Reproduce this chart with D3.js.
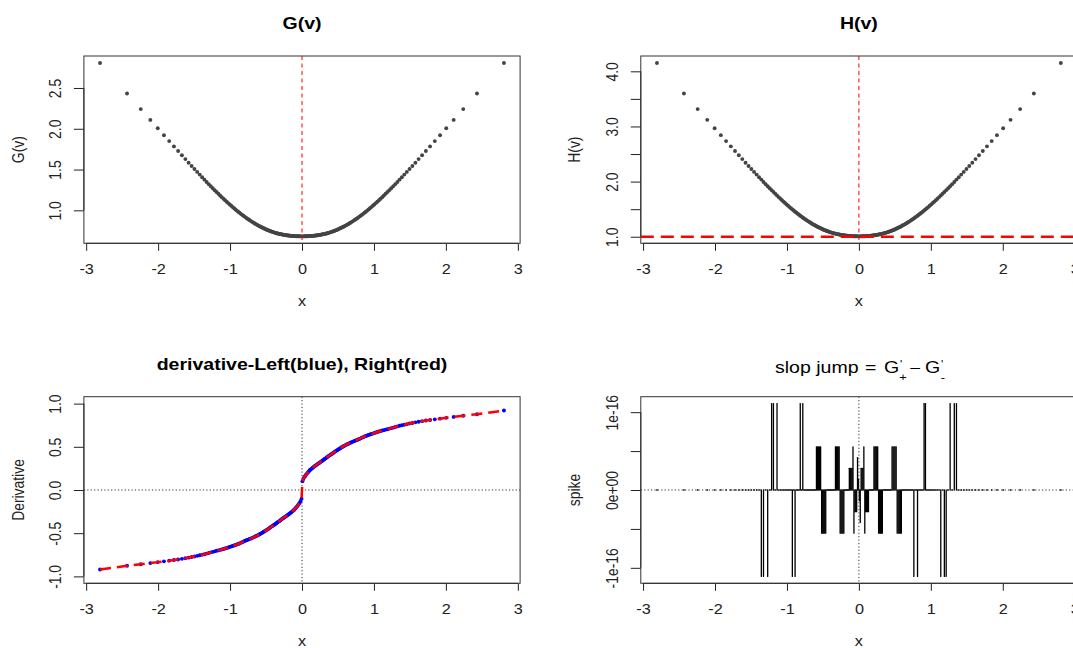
<!DOCTYPE html>
<html>
<head>
<meta charset="utf-8">
<script src="https://cdn.jsdelivr.net/npm/d3@7"></script>
<style>
  body { margin: 0; background: #fff; }
  svg { display: block; }
  text { font-family: "Liberation Sans", Arial, sans-serif; }
</style>
</head>
<body>
<svg id="chart" width="1073" height="648"></svg>
<script>
// sample points (200 symmetric points)
const xs = [
  -2.807, -2.432, -2.241, -2.108, -2.005, -1.919, -1.846, -1.780, -1.722, -1.669,
  -1.621, -1.576, -1.534, -1.495, -1.457, -1.422, -1.388, -1.356, -1.326, -1.296,
  -1.268, -1.240, -1.213, -1.188, -1.163, -1.138, -1.115, -1.092, -1.069, -1.047,
  -1.026, -1.005, -0.984, -0.964, -0.944, -0.925, -0.906, -0.887, -0.868, -0.850,
  -0.832, -0.815, -0.798, -0.780, -0.764, -0.747, -0.731, -0.714, -0.698, -0.682,
  -0.667, -0.651, -0.636, -0.620, -0.605, -0.590, -0.576, -0.561, -0.546, -0.532,
  -0.518, -0.503, -0.489, -0.475, -0.461, -0.447, -0.433, -0.420, -0.406, -0.392,
  -0.379, -0.366, -0.352, -0.339, -0.326, -0.313, -0.300, -0.287, -0.274, -0.261,
  -0.248, -0.235, -0.222, -0.209, -0.197, -0.184, -0.171, -0.157, -0.146, -0.133,
  -0.120, -0.107, -0.094, -0.082, -0.069, -0.056, -0.044, -0.031, -0.019, -0.006,
  0.006, 0.019, 0.031, 0.044, 0.056, 0.069, 0.082, 0.094, 0.107, 0.120,
  0.133, 0.146, 0.157, 0.171, 0.184, 0.197, 0.209, 0.222, 0.235, 0.248,
  0.261, 0.274, 0.287, 0.300, 0.313, 0.326, 0.339, 0.352, 0.366, 0.379,
  0.392, 0.406, 0.420, 0.433, 0.447, 0.461, 0.475, 0.489, 0.503, 0.518,
  0.532, 0.546, 0.561, 0.576, 0.590, 0.605, 0.620, 0.636, 0.651, 0.667,
  0.682, 0.698, 0.714, 0.731, 0.747, 0.764, 0.780, 0.798, 0.815, 0.832,
  0.850, 0.868, 0.887, 0.906, 0.925, 0.944, 0.964, 0.984, 1.005, 1.026,
  1.047, 1.069, 1.092, 1.115, 1.138, 1.163, 1.188, 1.213, 1.240, 1.268,
  1.296, 1.326, 1.356, 1.388, 1.422, 1.457, 1.495, 1.534, 1.576, 1.621,
  1.669, 1.722, 1.780, 1.846, 1.919, 2.005, 2.108, 2.241, 2.432, 2.807
];

const gv = [
  2.807, 2.432, 2.241, 2.109, 2.006, 1.921, 1.849, 1.784, 1.727, 1.675,
  1.628, 1.584, 1.544, 1.507, 1.471, 1.438, 1.406, 1.376, 1.348, 1.321,
  1.296, 1.271, 1.247, 1.225, 1.203, 1.182, 1.162, 1.143, 1.124, 1.106,
  1.089, 1.072, 1.056, 1.040, 1.025, 1.011, 0.997, 0.983, 0.970, 0.957,
  0.945, 0.934, 0.923, 0.911, 0.901, 0.891, 0.881, 0.871, 0.862, 0.853,
  0.844, 0.836, 0.828, 0.820, 0.813, 0.805, 0.799, 0.792, 0.786, 0.780,
  0.774, 0.768, 0.762, 0.757, 0.752, 0.747, 0.743, 0.739, 0.735, 0.730,
  0.727, 0.723, 0.720, 0.717, 0.714, 0.711, 0.708, 0.706, 0.703, 0.701,
  0.699, 0.697, 0.695, 0.694, 0.692, 0.691, 0.689, 0.688, 0.687, 0.686,
  0.685, 0.685, 0.684, 0.683, 0.683, 0.682, 0.682, 0.682, 0.681, 0.681,
  0.681, 0.681, 0.682, 0.682, 0.682, 0.683, 0.683, 0.684, 0.685, 0.685,
  0.686, 0.687, 0.688, 0.689, 0.691, 0.692, 0.694, 0.695, 0.697, 0.699,
  0.701, 0.703, 0.706, 0.708, 0.711, 0.714, 0.717, 0.720, 0.723, 0.727,
  0.730, 0.735, 0.739, 0.743, 0.747, 0.752, 0.757, 0.762, 0.768, 0.774,
  0.780, 0.786, 0.792, 0.799, 0.805, 0.813, 0.820, 0.828, 0.836, 0.844,
  0.853, 0.862, 0.871, 0.881, 0.891, 0.901, 0.911, 0.923, 0.934, 0.945,
  0.957, 0.970, 0.983, 0.997, 1.011, 1.025, 1.040, 1.056, 1.072, 1.089,
  1.106, 1.124, 1.143, 1.162, 1.182, 1.203, 1.225, 1.247, 1.271, 1.296,
  1.321, 1.348, 1.376, 1.406, 1.438, 1.471, 1.507, 1.544, 1.584, 1.628,
  1.675, 1.727, 1.784, 1.849, 1.921, 2.006, 2.109, 2.241, 2.432, 2.807
];

const hv = [
  4.152, 3.598, 3.315, 3.120, 2.967, 2.842, 2.735, 2.639, 2.555, 2.478,
  2.408, 2.343, 2.284, 2.229, 2.176, 2.127, 2.080, 2.036, 1.994, 1.954,
  1.917, 1.880, 1.845, 1.812, 1.780, 1.749, 1.719, 1.691, 1.663, 1.636,
  1.611, 1.586, 1.562, 1.538, 1.516, 1.496, 1.475, 1.454, 1.435, 1.416,
  1.398, 1.382, 1.365, 1.348, 1.333, 1.318, 1.303, 1.288, 1.275, 1.262,
  1.249, 1.237, 1.225, 1.213, 1.203, 1.191, 1.182, 1.172, 1.163, 1.154,
  1.145, 1.136, 1.127, 1.120, 1.112, 1.105, 1.099, 1.093, 1.087, 1.080,
  1.075, 1.070, 1.065, 1.061, 1.056, 1.052, 1.047, 1.044, 1.040, 1.037,
  1.034, 1.031, 1.028, 1.027, 1.024, 1.022, 1.019, 1.018, 1.016, 1.015,
  1.013, 1.013, 1.012, 1.010, 1.010, 1.009, 1.009, 1.009, 1.007, 1.007,
  1.007, 1.007, 1.009, 1.009, 1.009, 1.010, 1.010, 1.012, 1.013, 1.013,
  1.015, 1.016, 1.018, 1.019, 1.022, 1.024, 1.027, 1.028, 1.031, 1.034,
  1.037, 1.040, 1.044, 1.047, 1.052, 1.056, 1.061, 1.065, 1.070, 1.075,
  1.080, 1.087, 1.093, 1.099, 1.105, 1.112, 1.120, 1.127, 1.136, 1.145,
  1.154, 1.163, 1.172, 1.182, 1.191, 1.203, 1.213, 1.225, 1.237, 1.249,
  1.262, 1.275, 1.288, 1.303, 1.318, 1.333, 1.348, 1.365, 1.382, 1.398,
  1.416, 1.435, 1.454, 1.475, 1.496, 1.516, 1.538, 1.562, 1.586, 1.611,
  1.636, 1.663, 1.691, 1.719, 1.749, 1.780, 1.812, 1.845, 1.880, 1.917,
  1.954, 1.994, 2.036, 2.080, 2.127, 2.176, 2.229, 2.284, 2.343, 2.408,
  2.478, 2.555, 2.639, 2.735, 2.842, 2.967, 3.120, 3.315, 3.598, 4.152
];

// left (blue points) and right (red dashed line) derivative coincide
const deriv = [
  -0.920, -0.877, -0.860, -0.846, -0.835, -0.826, -0.818, -0.811, -0.804, -0.797,
  -0.790, -0.783, -0.776, -0.769, -0.762, -0.756, -0.749, -0.743, -0.736, -0.729,
  -0.722, -0.716, -0.710, -0.704, -0.699, -0.693, -0.688, -0.683, -0.677, -0.671,
  -0.665, -0.659, -0.653, -0.648, -0.642, -0.637, -0.631, -0.625, -0.619, -0.612,
  -0.605, -0.598, -0.591, -0.585, -0.579, -0.574, -0.568, -0.563, -0.557, -0.551,
  -0.545, -0.539, -0.533, -0.527, -0.520, -0.513, -0.506, -0.499, -0.492, -0.484,
  -0.476, -0.468, -0.461, -0.453, -0.445, -0.437, -0.429, -0.421, -0.413, -0.405,
  -0.398, -0.390, -0.382, -0.374, -0.366, -0.358, -0.350, -0.342, -0.334, -0.326,
  -0.319, -0.311, -0.303, -0.296, -0.288, -0.280, -0.272, -0.263, -0.256, -0.247,
  -0.238, -0.228, -0.215, -0.203, -0.190, -0.176, -0.162, -0.147, -0.128, -0.100,
  0.100, 0.128, 0.147, 0.162, 0.176, 0.190, 0.203, 0.215, 0.228, 0.238,
  0.247, 0.256, 0.263, 0.272, 0.280, 0.288, 0.296, 0.303, 0.311, 0.319,
  0.326, 0.334, 0.342, 0.350, 0.358, 0.366, 0.374, 0.382, 0.390, 0.398,
  0.405, 0.413, 0.421, 0.429, 0.437, 0.445, 0.453, 0.461, 0.468, 0.476,
  0.484, 0.492, 0.499, 0.506, 0.513, 0.520, 0.527, 0.533, 0.539, 0.545,
  0.551, 0.557, 0.563, 0.568, 0.574, 0.579, 0.585, 0.591, 0.598, 0.605,
  0.612, 0.619, 0.625, 0.631, 0.637, 0.642, 0.648, 0.653, 0.659, 0.665,
  0.671, 0.677, 0.683, 0.688, 0.693, 0.699, 0.704, 0.710, 0.716, 0.722,
  0.729, 0.736, 0.743, 0.749, 0.756, 0.762, 0.769, 0.776, 0.783, 0.790,
  0.797, 0.804, 0.811, 0.818, 0.826, 0.835, 0.846, 0.860, 0.877, 0.920
];

const spike = [
  0, 0, 0, 0, 0, 0, 0, 0, 0, 0,
  0, 0, 0, 0, 0, 0, 0, -1.11e-16, -1.11e-16, 0,
  -1.11e-16, 0, 1.11e-16, 1.11e-16, 0, 1.11e-16, 0, 0, 0, 0,
  0, 0, 0, 0, 0, -1.11e-16, 0, -1.11e-16, 0, 0,
  0, 1.11e-16, 0, 1.11e-16, 0, 0, 0, 0, 0, 0,
  0, 0, 0, 0, 0, 5.55e-17, 5.55e-17, 5.55e-17, 5.55e-17, 5.55e-17,
  -5.55e-17, -5.55e-17, -5.55e-17, -5.55e-17, -5.55e-17, 0, 0, 0, 0, 0,
  0, 0, 0, 0, 5.55e-17, 5.55e-17, 5.55e-17, 5.55e-17, 5.55e-17, -5.55e-17,
  -5.55e-17, -5.55e-17, -5.55e-17, -5.55e-17, 0, 0, 0, 0, 0, 2.78e-17,
  2.78e-17, 2.78e-17, 2.78e-17, 5.55e-17, -5.55e-17, -2.78e-17, -2.78e-17, -2.78e-17, 4.16e-17, 1.39e-17,
  -1.39e-17, -4.16e-17, 2.78e-17, 2.78e-17, 2.78e-17, 5.55e-17, -5.55e-17, -2.78e-17, -2.78e-17, -2.78e-17,
  -2.78e-17, 0, 0, 0, 0, 0, 5.55e-17, 5.55e-17, 5.55e-17, 5.55e-17,
  5.55e-17, -5.55e-17, -5.55e-17, -5.55e-17, -5.55e-17, -5.55e-17, 0, 0, 0, 0,
  0, 0, 0, 0, 0, 5.55e-17, 5.55e-17, 5.55e-17, 5.55e-17, 5.55e-17,
  -5.55e-17, -5.55e-17, -5.55e-17, -5.55e-17, -5.55e-17, 0, 0, 0, 0, 0,
  0, 0, 0, 0, 0, -1.11e-16, 0, 0, -1.11e-16, 0,
  0, 0, 0, 1.11e-16, 1.11e-16, 0, 0, 0, 0, 0,
  0, 0, 0, 0, -1.11e-16, 0, -1.11e-16, -1.11e-16, 0, 1.11e-16,
  0, 1.11e-16, 1.11e-16, 0, 0, 0, 0, 0, 0, 0,
  0, 0, 0, 0, 0, 0, 0, 0, 0, 0
];

const xTicks = [-3, -2, -1, 0, 1, 2, 3];
const gTicks = [1.0, 1.5, 2.0, 2.5];
const gLabels = ["1.0", "1.5", "2.0", "2.5"];
const hTicks = [1.0, 1.5, 2.0, 2.5, 3.0, 3.5, 4.0];
const hLabels = ["1.0", "", "2.0", "", "3.0", "", "4.0"];
const dTicks = [-1, -0.5, 0, 0.5, 1];
const dLabels = ["-1.0", "-0.5", "0.0", "0.5", "1.0"];
const sTicks = [-1e-16, -5e-17, 0, 5e-17, 1e-16];
const sLabels = ["-1e-16", "", "0e+00", "", "1e-16"];

const SX = 1.17;   // the reference picture is stretched sideways
const FS = 13.9;
const svg = d3.select("#chart");

// R style axis range: data range plus 4% each side
function rlim(ext) {
  const p = (ext[1] - ext[0]) * 0.04;
  return [ext[0] - p, ext[1] + p];
}

function txt(g, x, y, s, o = {}) {
  return g.append("text")
    .attr("transform", `translate(${x},${y}) scale(${SX},1)` + (o.rot ? ` rotate(${o.rot})` : ""))
    .attr("text-anchor", o.anchor || "middle")
    .attr("font-size", o.size || FS)
    .attr("font-weight", o.bold ? "bold" : null)
    .attr("fill", o.fill || "#111")
    .text(s);
}

function panel(box, ydom, yTicks, yLabels, title, ylab) {
  const g = svg.append("g");
  const x = d3.scaleLinear().domain(rlim(d3.extent(xs))).range([box.x0, box.x1]);
  const y = d3.scaleLinear().domain(ydom).range([box.y1, box.y0]);

  const ax = g.append("g")
    .attr("transform", `translate(0,${box.y1})`)
    .call(d3.axisBottom(x).tickValues(xTicks).tickSize(7.5).tickSizeOuter(0).tickFormat(d => String(d)));
  ax.attr("font-size", FS).attr("font-family", null).attr("color", "#222");
  ax.select(".domain").attr("d", `M${x(xTicks[0])},0H${x(xTicks[xTicks.length - 1])}`);
  ax.selectAll(".tick text").attr("y", null).attr("dy", null)
    .attr("transform", `translate(0,31) scale(${SX},1)`);

  const ay = g.append("g")
    .attr("transform", `translate(${box.x0},0)`)
    .call(d3.axisLeft(y).tickValues(yTicks).tickSize(10).tickSizeOuter(0).tickFormat((d, i) => yLabels[i]));
  ay.attr("font-size", FS).attr("font-family", null).attr("color", "#222");
  ay.select(".domain").attr("d", `M0,${y(yTicks[0])}V${y(yTicks[yTicks.length - 1])}`);
  ay.selectAll(".tick text").attr("x", null).attr("dy", null).attr("text-anchor", "middle")
    .attr("transform", `translate(-23,0) scale(${SX},1) rotate(-90)`);

  g.append("rect")
    .attr("x", box.x0).attr("y", box.y0)
    .attr("width", box.x1 - box.x0).attr("height", box.y1 - box.y0)
    .attr("fill", "none").attr("stroke", "#333").attr("stroke-width", 1);

  if (title) txt(g, (box.x0 + box.x1) / 2, box.y0 - 27, title, { size: 16.7, bold: true, fill: "#000" });
  txt(g, (box.x0 + box.x1) / 2, box.y1 + 63, "x", { fill: "#222" });
  txt(g, box.x0 - 60.4, (box.y0 + box.y1) / 2, ylab, { rot: -90, fill: "#222" });
  return { g, x, y };
}

const idx = d3.range(xs.length);
const boxG = { x0: 83.9, x1: 520.1, y0: 56, y1: 243.3 };
const boxH = { x0: 640.8, x1: 1077, y0: 56, y1: 243.3 };
const boxD = { x0: 83.9, x1: 520.1, y0: 396.7, y1: 583.3 };
const boxS = { x0: 640.8, x1: 1077, y0: 396.7, y1: 583.3 };
const DOT = 1.95;

// ---- G(v)
{
  const p = panel(boxG, rlim(d3.extent(gv)), gTicks, gLabels, "G(v)", "G(v)");
  p.g.append("g").selectAll("circle").data(idx).join("circle")
    .attr("cx", i => p.x(xs[i])).attr("cy", i => p.y(gv[i]))
    .attr("r", DOT).attr("fill", "#444");
  p.g.append("line")
    .attr("x1", p.x(0)).attr("x2", p.x(0)).attr("y1", boxG.y0).attr("y2", boxG.y1)
    .attr("stroke", "#ff0000").attr("stroke-width", 1).attr("stroke-dasharray", "4,3.5");
}

// ---- H(v)
{
  const p = panel(boxH, rlim(d3.extent(hv)), hTicks, hLabels, "H(v)", "H(v)");
  p.g.append("g").selectAll("circle").data(idx).join("circle")
    .attr("cx", i => p.x(xs[i])).attr("cy", i => p.y(hv[i]))
    .attr("r", DOT).attr("fill", "#444");
  p.g.append("line")
    .attr("x1", p.x(0)).attr("x2", p.x(0)).attr("y1", boxH.y0).attr("y2", boxH.y1)
    .attr("stroke", "#ff0000").attr("stroke-width", 1).attr("stroke-dasharray", "4,3.5");
  p.g.append("line")
    .attr("x1", boxH.x0).attr("x2", boxH.x1).attr("y1", p.y(1)).attr("y2", p.y(1))
    .attr("stroke", "#ff0000").attr("stroke-width", 2.5).attr("stroke-dasharray", "13,7");
}

// ---- derivatives
{
  const p = panel(boxD, rlim([-1, 1]), dTicks, dLabels, "derivative-Left(blue), Right(red)", "Derivative");
  p.g.append("g").selectAll("circle").data(idx).join("circle")
    .attr("cx", i => p.x(xs[i])).attr("cy", i => p.y(deriv[i]))
    .attr("r", DOT).attr("fill", "#0000ff");
  p.g.append("line")
    .attr("x1", boxD.x0).attr("x2", boxD.x1).attr("y1", p.y(0)).attr("y2", p.y(0))
    .attr("stroke", "#333").attr("stroke-dasharray", "1.2,2.2");
  p.g.append("line")
    .attr("x1", p.x(0)).attr("x2", p.x(0)).attr("y1", boxD.y0).attr("y2", boxD.y1)
    .attr("stroke", "#333").attr("stroke-dasharray", "1.2,2.2");
  const line = d3.line().x(i => p.x(xs[i])).y(i => p.y(deriv[i]));
  p.g.append("path").attr("d", line(idx))
    .attr("fill", "none").attr("stroke", "#ff0000").attr("stroke-width", 2.5)
    .attr("stroke-dasharray", "11,6");
}

// ---- slope jump spikes (type "h": zero values leave a round dot on the axis)
{
  const p = panel(boxS, rlim(d3.extent(spike)), sTicks, sLabels, null, "spike");
  p.g.append("g").selectAll("path").data(idx).join("path")
    .attr("d", i => {
      const x = p.x(xs[i]), y0 = p.y(0), y1 = p.y(spike[i]);
      return spike[i] === 0 ? `M${x - 0.3},${y0}h0.6` : `M${x},${y0}V${y1}`;
    })
    .attr("stroke", "#000").attr("stroke-width", 1.3).attr("stroke-linecap", "round");
  p.g.append("line")
    .attr("x1", boxS.x0).attr("x2", boxS.x1).attr("y1", p.y(0)).attr("y2", p.y(0))
    .attr("stroke", "#333").attr("stroke-dasharray", "1.2,2.2");
  p.g.append("line")
    .attr("x1", p.x(0)).attr("x2", p.x(0)).attr("y1", boxS.y0).attr("y2", boxS.y1)
    .attr("stroke", "#333").attr("stroke-dasharray", "1.2,2.2");

  // plotmath style title: slop jump = G'+ - G'-
  const t = p.g.append("g");
  const base = 373;
  txt(t, 775, base, "slop jump", { anchor: "start", size: 16.7, fill: "#000" });
  txt(t, 865, base, "=", { anchor: "start", size: 16.7, fill: "#000" });
  txt(t, 884, base, "G", { anchor: "start", size: 16.7, fill: "#000" });
  txt(t, 900, base - 5, "'", { anchor: "start", size: 10, fill: "#000" });
  txt(t, 903, base + 8, "+", { size: 11, fill: "#000" });
  txt(t, 915, base - 1, "\u2013", { size: 15, fill: "#000" });
  txt(t, 925, base, "G", { anchor: "start", size: 16.7, fill: "#000" });
  txt(t, 941, base - 5, "'", { anchor: "start", size: 10, fill: "#000" });
  txt(t, 943, base + 8, "-", { size: 11, fill: "#000" });
}
</script>
</body>
</html>
